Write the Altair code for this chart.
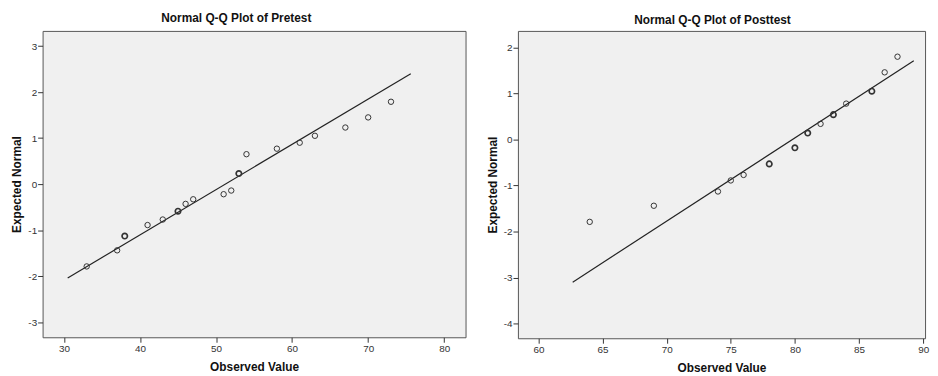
import altair as alt
import pandas as pd

# Pretest Q-Q data
pre_obs = [33, 37, 38, 41, 43, 45, 46, 47, 51, 52, 53, 54, 58, 61, 63, 67, 70, 73]
pre_exp = [-1.79, -1.44, -1.13, -0.89, -0.77, -0.59, -0.43, -0.33, -0.22, -0.14,
           0.23, 0.65, 0.77, 0.90, 1.05, 1.23, 1.45, 1.79]
pre_ties = [1, 1, 2, 1, 1, 2, 1, 1, 1, 1, 2, 1, 1, 1, 1, 1, 1, 1]
pre_line_x = [30.5, 75.6]
pre_line_y = [-2.04, 2.40]

# Posttest Q-Q data
post_obs = [64, 69, 74, 75, 76, 78, 80, 81, 82, 83, 84, 86, 87, 88]
post_exp = [-1.79, -1.44, -1.13, -0.89, -0.77, -0.53, -0.18, 0.14, 0.34, 0.54,
            0.78, 1.05, 1.46, 1.80]
post_ties = [1, 1, 1, 1, 1, 2, 2, 2, 1, 2, 1, 2, 1, 1]
post_line_x = [62.67, 89.27]
post_line_y = [-3.10, 1.71]

pre_ticks_x = [30, 40, 50, 60, 70, 80]
pre_ticks_y = [-3, -2, -1, 0, 1, 2, 3]
post_ticks_x = [60, 65, 70, 75, 80, 85, 90]
post_ticks_y = [-4, -3, -2, -1, 0, 1, 2]

FONT = "Liberation Sans"
LABEL = "'' + datum.value"


def panel(obs, exp, ties, lx, ly, xdom, ydom, xt, yt, title, w, h, toff, tdx):
    pts = pd.DataFrame({"obs": obs, "exp": exp, "ties": ties})
    ln = pd.DataFrame({"obs": lx, "exp": ly})
    xs = alt.Scale(domain=xdom, nice=False, zero=False)
    ys = alt.Scale(domain=ydom, nice=False, zero=False)
    xax = alt.Axis(values=xt, title="Observed Value", labelExpr=LABEL, grid=False)
    yax = alt.Axis(values=yt, title="Expected Normal", labelExpr=LABEL, grid=False)
    line = alt.Chart(ln).mark_line(color="#222222", strokeWidth=1.2).encode(
        x=alt.X("obs:Q", scale=xs, axis=xax),
        y=alt.Y("exp:Q", scale=ys, axis=yax),
    )
    points = alt.Chart(pts).mark_point(
        shape="circle", filled=False, size=30, color="#333333", opacity=1
    ).encode(
        x=alt.X("obs:Q", scale=xs),
        y=alt.Y("exp:Q", scale=ys),
        strokeWidth=alt.StrokeWidth("ties:Q", scale=alt.Scale(domain=[1, 2], range=[1.0, 1.7]), legend=None),
    )
    return alt.layer(line, points).properties(
        width=w, height=h,
        title=alt.TitleParams(title, fontSize=12, font=FONT, fontWeight="bold",
                              color="#111111", offset=toff, frame="bounds", dx=tdx),
    )


left = panel(pre_obs, pre_exp, pre_ties, pre_line_x, pre_line_y,
             [27.2, 82.8], [-3.33, 3.33], pre_ticks_x, pre_ticks_y,
             "Normal Q-Q Plot of Pretest", 428, 310, 6, -2)
right = panel(post_obs, post_exp, post_ties, post_line_x, post_line_y,
              [58.4, 90.15], [-4.32, 2.36], post_ticks_x, post_ticks_y,
              "Normal Q-Q Plot of Posttest", 412, 311, 4, 5)

chart = alt.hconcat(left, right, spacing=19).properties(
    padding={"left": 2, "top": 1, "right": 0, "bottom": 0}
).configure(
    background="white"
).configure_view(
    fill="#F0F0F0", stroke="#555555", strokeWidth=1
).configure_axis(
    domain=False, grid=False, tickColor="#333333", tickSize=5, tickWidth=1,
    labelFont=FONT, labelFontSize=10, labelColor="#333333", labelPadding=1,
    titleFont=FONT, titleFontSize=12, titleFontWeight="bold", titleColor="#111111",
).configure_axisX(
    titlePadding=9
).configure_axisY(
    titlePadding=4
)

chart.save("out.html", embed_options={"renderer": "svg", "actions": False})
